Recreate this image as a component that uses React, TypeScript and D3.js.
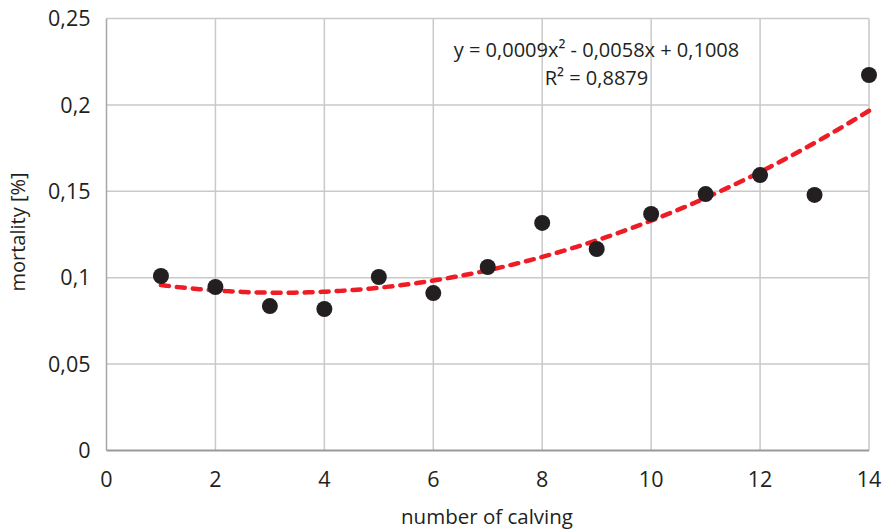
import * as d3 from "d3";
import { useMemo } from "react";

// number of calving and mortality values
const calving = [1, 2, 3, 4, 5, 6, 7, 8, 9, 10, 11, 12, 13, 14];
const mortality = [0.101, 0.0946, 0.0836, 0.0819, 0.1004, 0.0911, 0.1062, 0.1317, 0.1166, 0.1369, 0.1484, 0.1594, 0.1479, 0.2173];

const xTicks = [0, 2, 4, 6, 8, 10, 12, 14];
const yTicks = [0, 0.05, 0.1, 0.15, 0.2, 0.25];

const equationText = "y = 0,0009x² - 0,0058x + 0,1008";
const r2Text = "R² = 0,8879";

const W = 882;
const H = 530;
const margin = { top: 18.5, right: 13, bottom: 79.5, left: 106.5 };
const FONT = "'Open Sans', sans-serif";

// least squares quadratic fit (same as excel's polynomial trendline)
function fitQuadratic(xs: number[], ys: number[]) {
  const s = (f: (x: number, y: number) => number) => d3.sum(xs, (x, i) => f(x, ys[i]));
  const n = xs.length;
  const sx = s((x) => x), sx2 = s((x) => x * x), sx3 = s((x) => x ** 3), sx4 = s((x) => x ** 4);
  const sy = s((_, y) => y), sxy = s((x, y) => x * y), sx2y = s((x, y) => x * x * y);
  const m = [
    [sx4, sx3, sx2, sx2y],
    [sx3, sx2, sx, sxy],
    [sx2, sx, n, sy],
  ];
  // gauss elimination
  for (let i = 0; i < 3; i++) {
    for (let k = i + 1; k < 3; k++) {
      const f = m[k][i] / m[i][i];
      for (let j = i; j < 4; j++) m[k][j] -= f * m[i][j];
    }
  }
  const c = [0, 0, 0];
  for (let i = 2; i >= 0; i--) {
    let v = m[i][3];
    for (let j = i + 1; j < 3; j++) v -= m[i][j] * c[j];
    c[i] = v / m[i][i];
  }
  return c; // a, b, c
}

export default function App() {
  const iw = W - margin.left - margin.right;
  const ih = H - margin.top - margin.bottom;

  const x = d3.scaleLinear().domain([0, 14]).range([0, iw]);
  const y = d3.scaleLinear().domain([0, 0.25]).range([ih, 0]);

  const trendPath = useMemo(() => {
    const [a, b, c] = fitQuadratic(calving, mortality);
    const pts = d3.range(1, 14.001, 0.1).map((v) => [v, a * v * v + b * v + c] as [number, number]);
    return d3.line<[number, number]>().x((d) => x(d[0])).y((d) => y(d[1])).curve(d3.curveMonotoneX)(pts) || "";
  }, []);

  return (
    <svg width={W} height={H} style={{ position: "absolute", left: 0, top: 0, background: "#fff" }}>
      <g transform={`translate(${margin.left},${margin.top})`}>
        {/* gridlines */}
        {yTicks.slice(1).map((t) => (
          <line key={"gy" + t} x1={0} x2={iw} y1={y(t)} y2={y(t)} stroke="#c9c9c9" strokeWidth={1.5} />
        ))}
        {xTicks.slice(1).map((t) => (
          <line key={"gx" + t} x1={x(t)} x2={x(t)} y1={0} y2={ih} stroke="#c9c9c9" strokeWidth={1.5} />
        ))}
        {/* axes */}
        <line x1={0} x2={0} y1={0} y2={ih} stroke="#a6a6a6" strokeWidth={1.5} />
        <line x1={0} x2={iw} y1={ih} y2={ih} stroke="#9a9a9a" strokeWidth={2} />

        {/* tick labels */}
        {yTicks.map((t) => (
          <text key={"ty" + t} x={-16} y={y(t)} dy="0.36em" textAnchor="end" fontFamily={FONT} fontSize={21.5} fill="#231f20">
            {String(t).replace(".", ",")}
          </text>
        ))}
        {xTicks.map((t) => (
          <text key={"tx" + t} x={x(t)} y={ih + 36} textAnchor="middle" fontFamily={FONT} fontSize={21.5} fill="#231f20">
            {t}
          </text>
        ))}

        {/* trendline */}
        <path d={trendPath} fill="none" stroke="#ee1c25" strokeWidth={4.5} strokeDasharray="8 8" strokeLinecap="round" />

        {/* points */}
        {calving.map((c, i) => (
          <circle key={"p" + c} cx={x(c)} cy={y(mortality[i])} r={8} fill="#231f20" />
        ))}

        {/* equation */}
        <text x={490} y={38} textAnchor="middle" fontFamily={FONT} fontSize={20} fill="#231f20">{equationText}</text>
        <text x={490} y={66} textAnchor="middle" fontFamily={FONT} fontSize={20} fill="#231f20">{r2Text}</text>
      </g>

      {/* axis titles */}
      <text x={487} y={524} textAnchor="middle" fontFamily={FONT} fontSize={20.5} fill="#231f20">number of calving</text>
      <text transform={`translate(25,232) rotate(-90)`} textAnchor="middle" fontFamily={FONT} fontSize={20} fill="#231f20">mortality [%]</text>
    </svg>
  );
}
